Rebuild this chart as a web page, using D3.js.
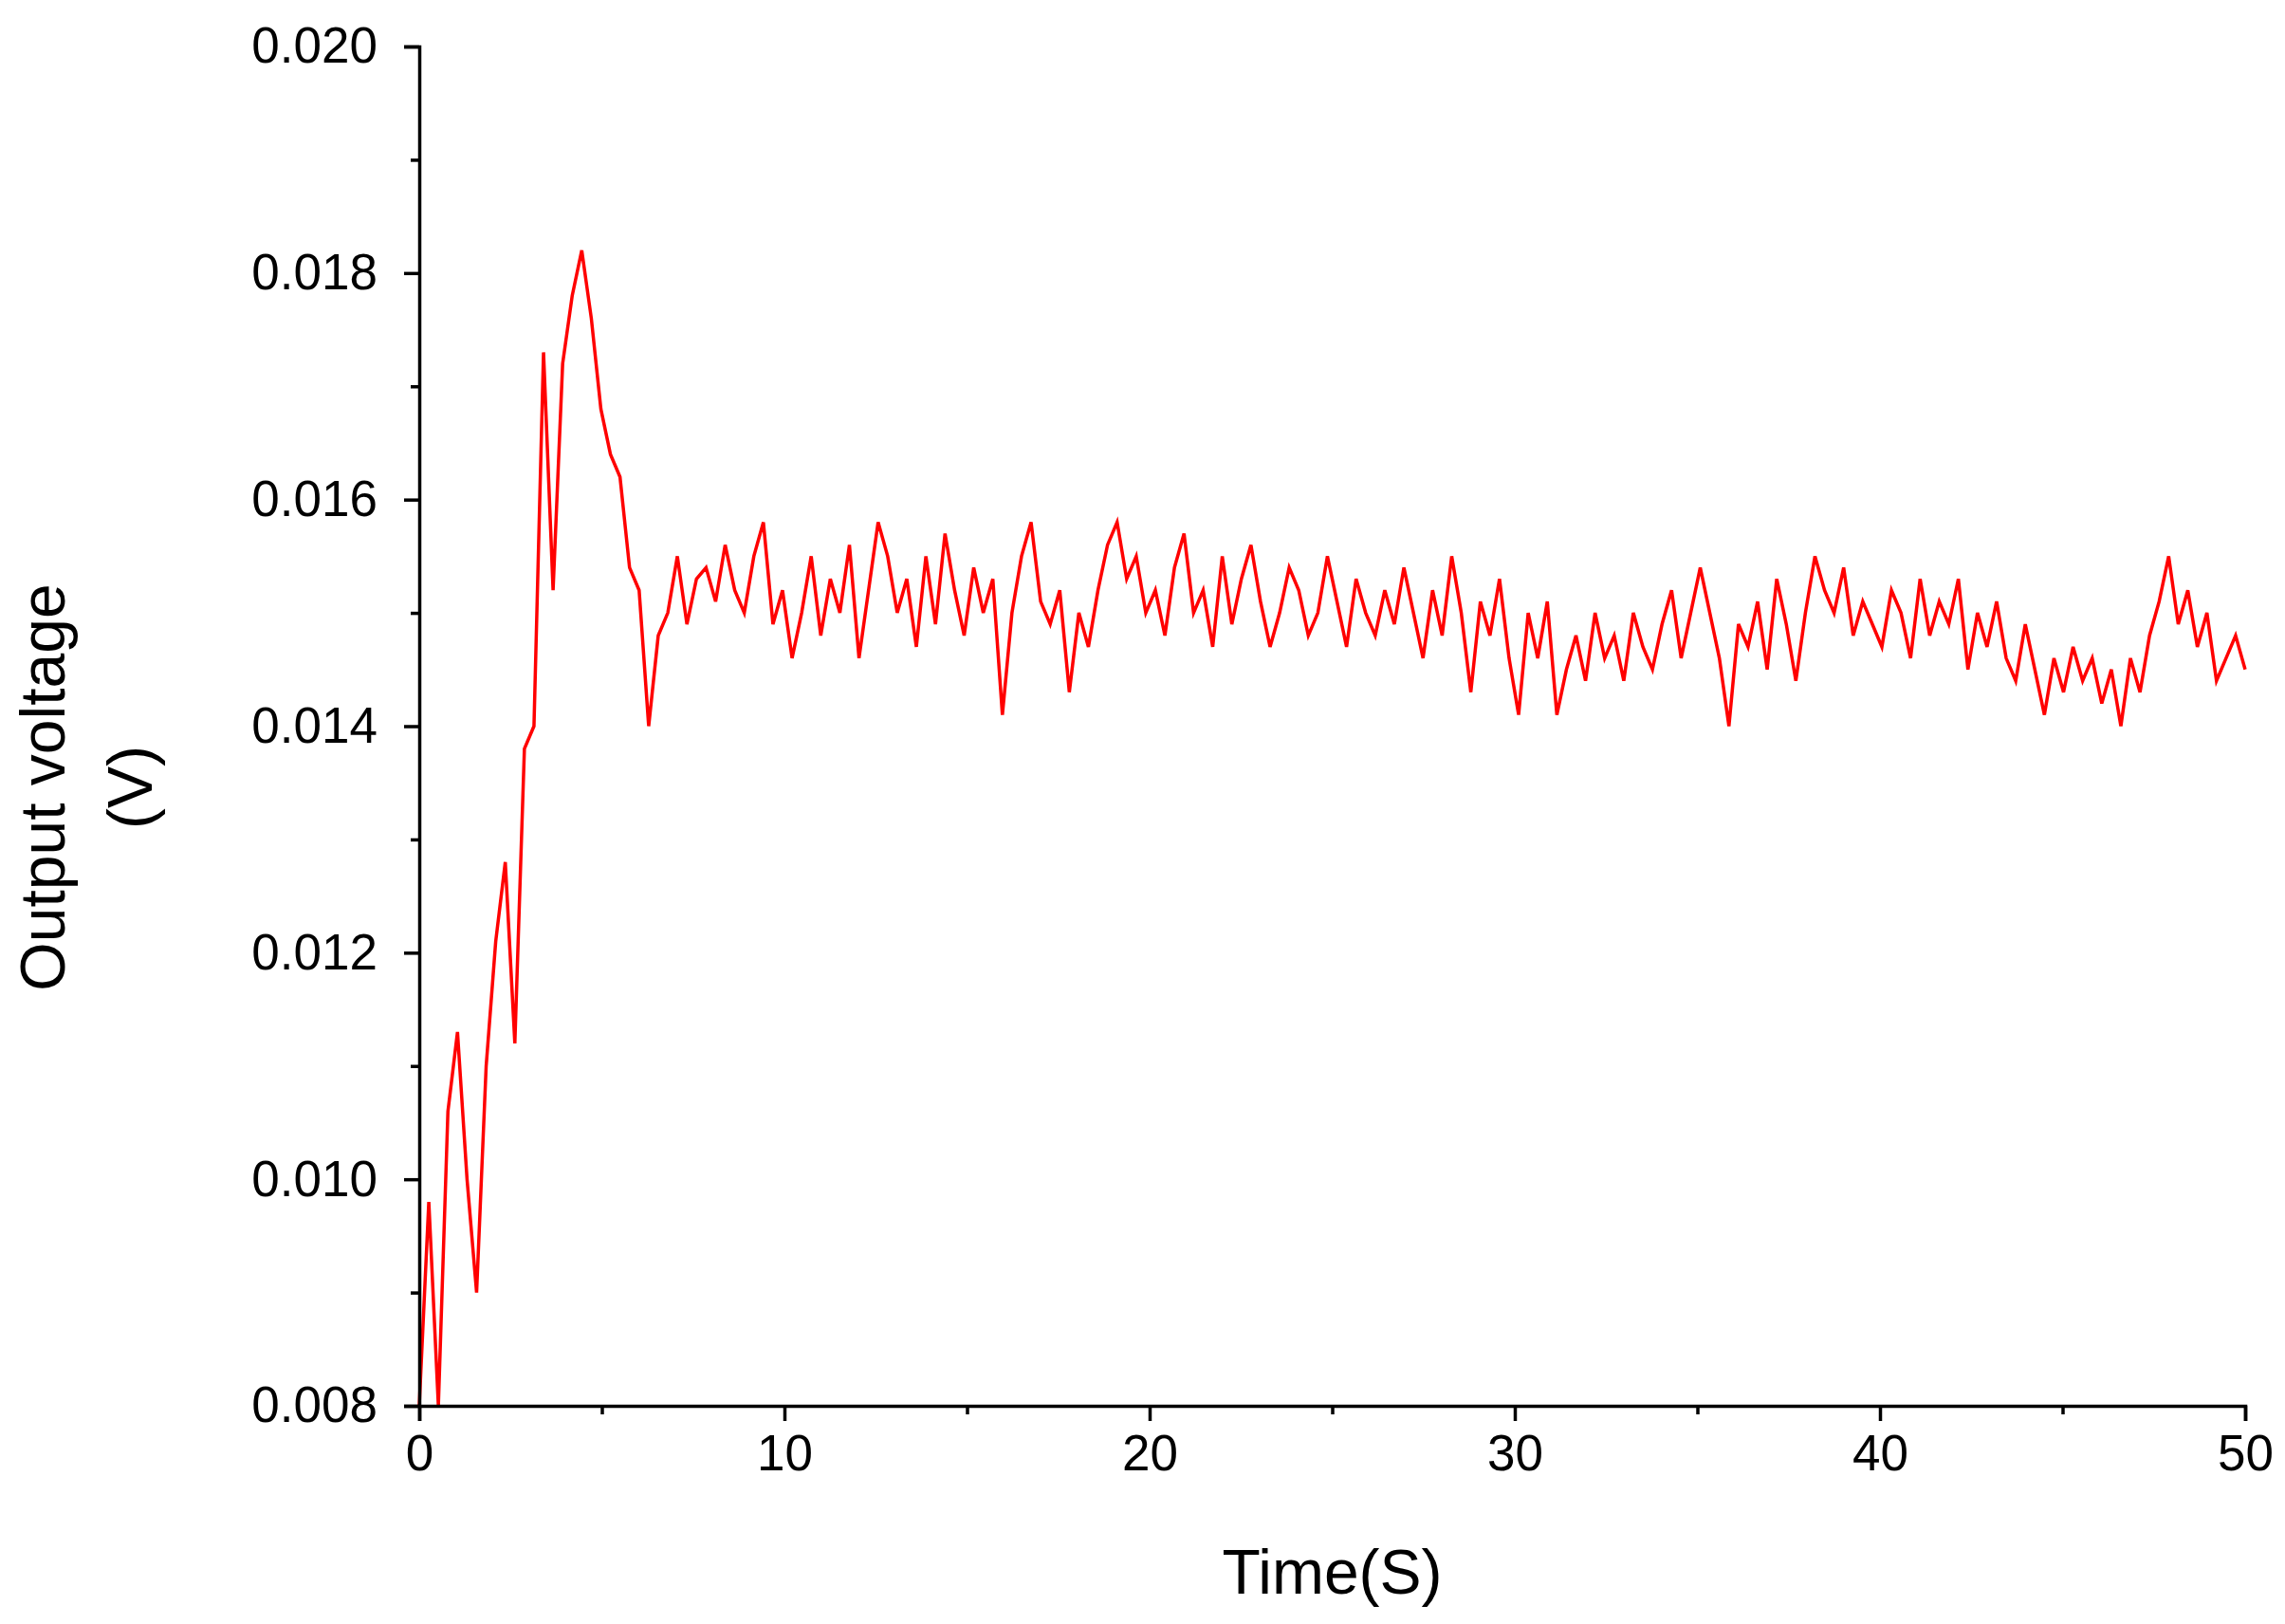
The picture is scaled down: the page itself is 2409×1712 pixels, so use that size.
<!DOCTYPE html>
<html><head><meta charset="utf-8">
<script src="https://cdn.jsdelivr.net/npm/d3@7"></script>
<style>body{margin:0;background:#fff}text{font-family:Arial,"Liberation Sans",sans-serif;fill:#000}</style>
</head><body><svg id="chart" width="2409" height="1712"></svg>
<script>
// 数据：输出电压（V），0–50 s 等间隔采样
const voltage = [
  .0080,.0098,.0080,.0106,.0113,.0100,.0090,.0110,.0121,.0128,.0112,.0138,.0140,.0173,.0152,.0172,.0178,.0182,.0176,.0168,.0164,.0162,.0154,.0152,.0140,
  .0148,.0150,.0155,.0149,.0153,.0154,.0151,.0156,.0152,.0150,.0155,.0158,.0149,.0152,.0146,
  .0150,.0155,.0148,.0153,.0150,.0156,.0146,.0152,.0158,.0155,.0150,.0153,.0147,.0155,.0149,.0157,.0152,.0148,.0154,
  .0150,.0153,.0141,.0150,.0155,.0158,.0151,.0149,.0152,.0143,.0150,.0147,.0152,.0156,.0158,.0153,.0155,.0150,.0152,
  .0148,.0154,.0157,.0150,.0152,.0147,.0155,.0149,.0153,.0156,.0151,.0147,.0150,.0154,.0152,.0148,.0150,.0155,.0151,
  .0147,.0153,.0150,.0148,.0152,.0149,.0154,.0150,.0146,.0152,.0148,.0155,.0150,.0143,.0151,.0148,.0153,.0146,.0141,
  .0150,.0146,.0151,.0141,.0145,.0148,.0144,.0150,.0146,.0148,.0144,.0150,.0147,.0145,.0149,.0152,.0146,.0150,.0154,
  .0150,.0146,.0140,.0149,.0147,.0151,.0145,.0153,.0149,.0144,.0150,.0155,.0152,.0150,.0154,.0148,.0151,.0149,.0147,
  .0152,.0150,.0146,.0153,.0148,.0151,.0149,.0153,.0145,.0150,.0147,.0151,.0146,.0144,.0149,.0145,.0141,.0146,.0143,
  .0147,.0144,.0146,.0142,.0145,.0140,.0146,.0143,.0148,.0151,.0155,.0149,.0152,.0147,.0150,.0144,.0146,.0148,.0145
];
const xTicks = [0, 10, 20, 30, 40, 50];
const yTicks = [0.008, 0.010, 0.012, 0.014, 0.016, 0.018, 0.020];
const xLabel = 'Time(S)';
const yLabel = ['Output voltage', '(V)'];

const svg = d3.select('#chart');
const mLeft = 442, mRight = 2367, mTop = 49, mBottom = 1482;
const x = d3.scaleLinear().domain([0, 50]).range([mLeft, mRight]);
const y = d3.scaleLinear().domain([0.008, 0.020]).range([mBottom, mTop]);

// 曲线
const pts = voltage.map((v, i) => [i * 50 / (voltage.length - 1), v]);
svg.append('path')
  .datum(pts)
  .attr('fill', 'none')
  .attr('stroke', '#ff0000')
  .attr('stroke-width', 3.5)
  .attr('d', d3.line().x(d => x(d[0])).y(d => y(d[1])));

// 坐标轴
svg.append('g').attr('transform', `translate(0,${mBottom})`)
  .call(d3.axisBottom(x).tickValues(xTicks).tickFormat(d3.format('d')).tickSize(16).tickPadding(14));
svg.append('g').attr('transform', `translate(0,${mBottom})`)
  .call(d3.axisBottom(x).tickValues(d3.range(5, 50, 10)).tickFormat('').tickSize(9))
  .select('.domain').remove();
svg.append('g').attr('transform', `translate(${mLeft},0)`)
  .call(d3.axisLeft(y).tickValues(yTicks).tickFormat(d3.format('.3f')).tickSize(16).tickPadding(28));
svg.append('g').attr('transform', `translate(${mLeft},0)`)
  .call(d3.axisLeft(y).tickValues(d3.range(0.009, 0.020, 0.002)).tickFormat('').tickSize(9))
  .select('.domain').remove();
svg.selectAll('.domain, .tick line').attr('stroke', '#000').attr('stroke-width', 3.5);
svg.selectAll('.tick text').attr('font-size', 53).style('font-family', 'Arial, "Liberation Sans", sans-serif');

// 标题
svg.append('text').attr('x', (mLeft + mRight) / 2).attr('y', 1680)
  .attr('text-anchor', 'middle').attr('font-size', 66).text(xLabel);
yLabel.forEach((t, i) => {
  svg.append('text')
    .attr('transform', `translate(${68 + i * 92},830) rotate(-90)`)
    .attr('text-anchor', 'middle').attr('font-size', 66).text(t);
});
</script></body></html>
